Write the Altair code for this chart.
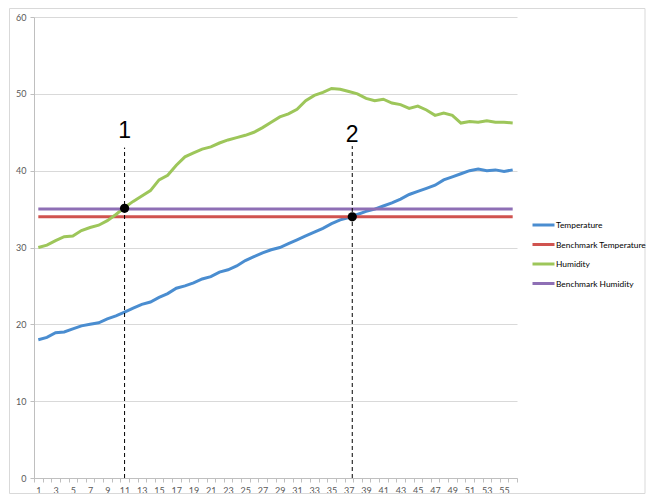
import altair as alt
import pandas as pd

x_vals = list(range(1, 57))
temperature = [18.0, 18.3, 18.9, 19.0, 19.4, 19.8, 20.0, 20.2, 20.7, 21.1,
               21.6, 22.1, 22.6, 22.9, 23.5, 24.0, 24.7, 25.0, 25.4, 25.9,
               26.2, 26.8, 27.1, 27.6, 28.3, 28.8, 29.3, 29.7, 30.0, 30.5,
               31.0, 31.5, 32.0, 32.5, 33.1, 33.6, 33.9, 34.3, 34.7, 35.0,
               35.4, 35.8, 36.3, 36.9, 37.3, 37.7, 38.1, 38.8, 39.2, 39.6,
               40.0, 40.2, 40.0, 40.1, 39.9, 40.1]
humidity = [30.0, 30.3, 30.9, 31.4, 31.5, 32.2, 32.6, 32.9, 33.5, 34.3,
            35.2, 36.0, 36.7, 37.4, 38.8, 39.4, 40.7, 41.8, 42.3, 42.8,
            43.1, 43.6, 44.0, 44.3, 44.6, 45.0, 45.6, 46.3, 47.0, 47.4,
            48.0, 49.1, 49.8, 50.2, 50.7, 50.6, 50.3, 50.0, 49.4, 49.1,
            49.3, 48.8, 48.6, 48.1, 48.4, 47.9, 47.2, 47.5, 47.2, 46.2,
            46.4, 46.3, 46.5, 46.3, 46.3, 46.2]
bench_temp = 34
bench_hum = 35

series_names = ["Temperature", "Benchmark Temperature", "Humidity", "Benchmark Humidity"]
series_colors = ["#4a8dd0", "#d0534f", "#9dc65a", "#8e6fb5"]
y_ticks = [0, 10, 20, 30, 40, 50, 60]
x_label_values = [v for v in x_vals if v % 2 == 1]
x_tick_values = [v - 0.5 for v in x_vals] + [x_vals[-1] + 0.5]

ann_labels = ["1", "2"]
ann_x = [11, 37.4]
ann_y = [35.1, 34.0]
ann_top = [43.0, 43.2]
ann_text_y = [45.2, 44.6]

rows = []
for i, xv in enumerate(x_vals):
    rows.append({"x": xv, "series": "Temperature", "value": temperature[i]})
    rows.append({"x": xv, "series": "Benchmark Temperature", "value": bench_temp})
    rows.append({"x": xv, "series": "Humidity", "value": humidity[i]})
    rows.append({"x": xv, "series": "Benchmark Humidity", "value": bench_hum})
df = pd.DataFrame(rows)
df["order"] = df["series"].map({s: i for i, s in enumerate(series_names)})

ann = pd.DataFrame({"label": ann_labels, "x": ann_x, "y": ann_y,
                    "y0": [0, 0], "top": ann_top, "ty": ann_text_y})

FONT = "Lato"
xscale = alt.Scale(domain=[0.5, 56.5], nice=False, zero=False)
yscale = alt.Scale(domain=[0, 60], nice=False, zero=True)

frame = alt.Chart(pd.DataFrame({"a": [0]})).mark_rect(
    fill="transparent", stroke="#d9d9d9", strokeWidth=1, clip=False
).encode(x=alt.value(-24.5), x2=alt.value(611), y=alt.value(-8.5), y2=alt.value(476.5))

lines = alt.Chart(df).mark_line(strokeWidth=3).encode(
    x=alt.X("x:Q", scale=xscale, title=None,
            axis=alt.Axis(orient="bottom", values=x_label_values, ticks=False,
                          grid=False, domainColor="#bfbfbf",
                          labelColor="#595959", labelFontSize=9,
                          labelFont=FONT, labelPadding=8, labelFlush=False,
                          labelOverlap=False, labelBound=False)),
    y=alt.Y("value:Q", scale=yscale, title=None,
            axis=alt.Axis(values=y_ticks, grid=True, gridColor="#d9d9d9",
                          domainColor="#bfbfbf", tickColor="#bfbfbf", tickSize=4,
                          labelColor="#595959", labelFontSize=9, labelFont=FONT,
                          labelPadding=4)),
    color=alt.Color("series:N",
                    scale=alt.Scale(domain=series_names, range=series_colors),
                    legend=alt.Legend(orient="none", legendX=497, legendY=203,
                                      title=None, symbolType="stroke",
                                      symbolSize=484, symbolStrokeWidth=3,
                                      labelFont=FONT, labelFontSize=8.4,
                                      labelColor="#000000", rowPadding=9.5,
                                      clipHeight=10,
                                      labelOffset=0, padding=0)),
    order=alt.Order("order:Q"),
    detail="series:N",
)

rules = alt.Chart(ann).mark_rule(color="black", strokeWidth=1, strokeDash=[4, 3]).encode(
    x=alt.X("x:Q", scale=xscale, title=None,
            axis=alt.Axis(orient="bottom", values=x_tick_values, labels=False,
                          domain=False, grid=False, ticks=True, tickSize=4,
                          tickColor="#bfbfbf")),
    y=alt.Y("y0:Q", scale=yscale, title=None), y2="top:Q")

points = alt.Chart(ann).mark_point(filled=True, size=85, color="black", opacity=1).encode(
    x=alt.X("x:Q", scale=xscale, axis=None), y=alt.Y("y:Q", scale=yscale, title=None))

texts = alt.Chart(ann).mark_text(font="Liberation Sans", fontSize=23, color="black").encode(
    x=alt.X("x:Q", scale=xscale, axis=None), y=alt.Y("ty:Q", scale=yscale, title=None),
    text="label:N")

chart = alt.layer(frame, lines, rules, points, texts).resolve_axis(x="independent").properties(
    width=483, height=461,
    autosize=alt.AutoSizeParams(type="none"),
    padding={"left": 26, "top": 9, "right": 129, "bottom": 16},
).configure_view(strokeWidth=0)

chart.save("out.html", embed_options={"renderer": "svg", "actions": False})
